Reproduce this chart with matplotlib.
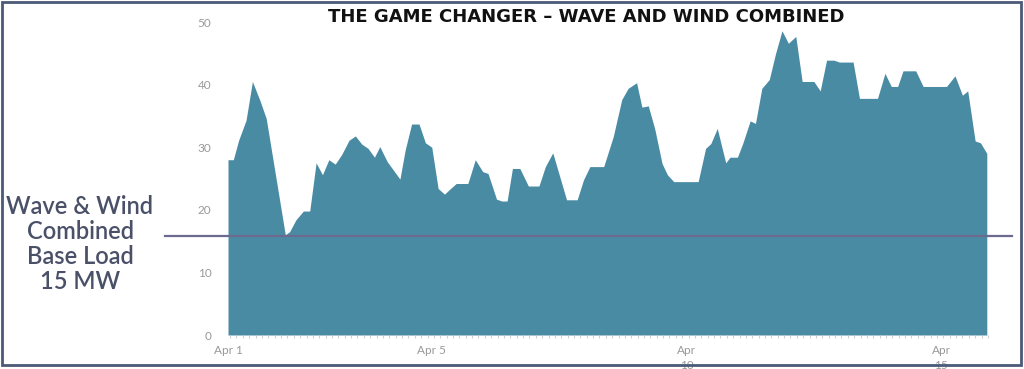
import matplotlib
matplotlib.use("Agg")
import matplotlib.pyplot as plt
import matplotlib.dates as mdates
from matplotlib.patches import Rectangle
import pandas as pd

# hours after Apr 1 00:00 and combined output (MW)
hours = [0, 2.5, 5, 8.5, 11.5, 15, 18, 27, 29, 32, 35.5, 38.5, 41.5, 44.5, 47.5, 50.5,
         53.5, 57, 60, 63, 66, 69, 71.5, 75, 81, 83.5, 86.5, 90, 93, 96, 99, 102,
         104.5, 107.5, 113, 116.5, 120, 122.5, 126.5, 129, 131.5, 134, 137.5, 141.5,
         146.5, 149.5, 153, 159.5, 164.5, 167.5, 170.5, 177, 181.5, 185.5, 188.5,
         192.5, 195, 198, 201, 204.5, 207, 210, 221.5, 225, 227.5, 230.5, 234.5,
         236.5, 240, 242.5, 246, 248.5, 251.5, 255, 258, 261, 264, 267.5, 270.5, 276,
         279, 282, 285.5, 288, 294.5, 297.5, 306, 309.5, 312.5, 315.5, 318, 324,
         327.5, 338.5, 342.5, 346, 348.5, 352, 354.5, 357.5]
power = [28.0, 28.0, 31.1, 34.3, 40.5, 37.5, 34.6, 16.0, 16.5, 18.4, 19.8, 19.8, 27.5,
         25.6, 28.0, 27.3, 28.8, 31.1, 31.8, 30.5, 29.8, 28.4, 30.1, 27.7, 24.9, 29.6,
         33.7, 33.7, 30.7, 30.0, 23.4, 22.5, 23.3, 24.2, 24.2, 28.0, 26.1, 25.8, 21.7,
         21.4, 21.4, 26.6, 26.6, 23.8, 23.8, 26.9, 29.1, 21.6, 21.6, 24.8, 26.9, 26.9,
         31.7, 37.6, 39.4, 40.3, 36.4, 36.6, 33.0, 27.4, 25.6, 24.5, 24.5, 29.8, 30.6,
         33.0, 27.5, 28.4, 28.4, 30.6, 34.2, 33.8, 39.4, 40.8, 45.0, 48.6, 46.6, 47.7,
         40.5, 40.5, 39.0, 43.9, 43.9, 43.6, 43.6, 37.8, 37.8, 41.8, 39.7, 39.7, 42.2,
         42.2, 39.7, 39.7, 41.4, 38.3, 39.0, 31.0, 30.7, 29.0]

base_load = 15.8
tick_days = ['2019-04-01', '2019-04-05', '2019-04-10', '2019-04-15']
tick_labels = ['Apr 1', 'Apr 5', 'Apr\n10', 'Apr\n15']
y_ticks = [0, 10, 20, 30, 40, 50]

start = pd.Timestamp('2019-04-01')
times = start + pd.to_timedelta(hours, unit='h')

W, H = 1024, 369
fig = plt.figure(figsize=(W / 100, H / 100), dpi=100)
ax = fig.add_axes([228 / W, (H - 335) / H, (990 - 228) / W, (335 - 22) / H])

ax.fill_between(times, power, 0, color='#4a8ba4', linewidth=0)
ax.set_xlim(start, start + pd.Timedelta(hours=359))
ax.set_ylim(0, 50)

ax.set_xticks(pd.to_datetime(tick_days))
ax.set_xticklabels(tick_labels, fontsize=8.5, color='#999999', family='Lato',
                   linespacing=1.5, va='top')
ax.xaxis.set_minor_locator(mdates.HourLocator(interval=3))
ax.tick_params(axis='x', which='major', length=0, pad=7)
ax.tick_params(axis='x', which='minor', length=2.5, color='#d0d0d0', width=0.8)
ax.set_yticks(y_ticks)
ax.set_yticklabels([str(v) for v in y_ticks], fontsize=8.5, color='#999999', family='Lato')
ax.tick_params(axis='y', length=0, pad=12)
for s in ax.spines.values():
    s.set_visible(False)

# base load line, running past the plot area
ax.axhline(base_load, xmin=(165 - 228) / 762, xmax=(1012 - 228) / 762,
           color='#6c6a8e', linewidth=1.6, clip_on=False)

fig.text(586 / W, 1 - 17 / H, 'THE GAME CHANGER \u2013 WAVE AND WIND COMBINED',
         ha='center', va='center', fontsize=13, fontweight='bold', family='DejaVu Sans',
         color='#111111')
fig.text(80 / W, 1 - 244 / H, 'Wave & Wind\nCombined\nBase Load\n15 MW',
         ha='center', va='center', multialignment='center', fontsize=17,
         fontweight='semibold', family='Lato', color='#4a5068', linespacing=1.1)

# frame round the slide
fig.add_artist(Rectangle((2 / W, 4 / H), (1021 - 2) / W, (H - 6) / H,
                         fill=False, edgecolor='#4a5a78', linewidth=2))

fig.savefig('out.png', dpi=100)
